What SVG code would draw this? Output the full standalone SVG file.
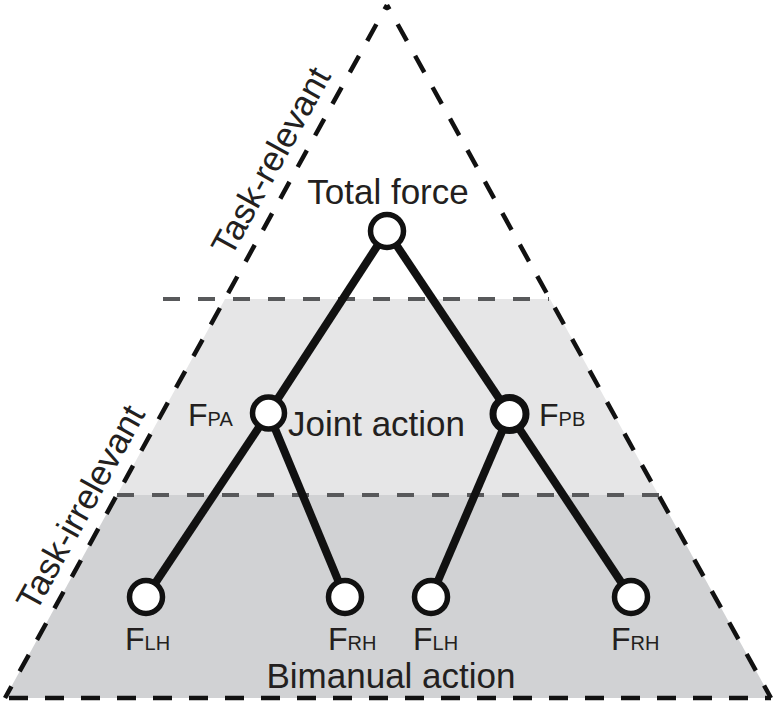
<svg xmlns="http://www.w3.org/2000/svg" width="774" height="702" viewBox="0 0 774 702">
<style>
  text { font-family: "Liberation Sans", Arial, sans-serif; fill: #231f20; }
  .lbl { font-size: 35px; }
  .F { font-size: 32px; }
  .sub { font-size: 20px; }
  .tri { stroke: #111; stroke-width: 4.5; stroke-dasharray: 19 17; fill: none; }
  .hd { stroke: #58595b; stroke-width: 4; stroke-dasharray: 17 18; fill: none; }
  .edge { stroke: #111; stroke-width: 8; fill: none; }
  .node { fill: #fff; stroke: #111; stroke-width: 5.5; }
</style>
<rect width="774" height="702" fill="#fff"/>
<!-- shaded bands -->
<polygon points="225,299 550,299 658.5,495 117,495" fill="#e6e6e7"/>
<polygon points="117,495 658.5,495 771,698 5,698" fill="#d1d2d4"/>
<!-- horizontal dashed separators -->
<line class="hd" x1="163" y1="299" x2="549" y2="299"/>
<line class="hd" x1="117" y1="495" x2="660" y2="495"/>
<!-- triangle -->
<line class="tri" x1="387" y1="5" x2="5" y2="698" stroke-dashoffset="14"/>
<line class="tri" x1="387" y1="5" x2="771" y2="698" stroke-dashoffset="14"/>
<line class="tri" x1="5" y1="698" x2="771" y2="698" stroke-dasharray="18 18.7" stroke-dashoffset="-4"/>
<!-- side labels -->
<text class="lbl" transform="translate(231,258) rotate(-61.1)">Task-relevant</text>
<text class="lbl" transform="translate(36,613) rotate(-61.1)">Task-irrelevant</text>
<!-- connectors -->
<g id="connectors">
  <line class="edge" x1="387" y1="231" x2="268.5" y2="413"/>
  <line class="edge" x1="387" y1="231" x2="509.5" y2="414"/>
  <line class="edge" x1="268.5" y1="413" x2="146" y2="597"/>
  <line class="edge" x1="268.5" y1="413" x2="345" y2="597"/>
  <line class="edge" x1="509.5" y1="414" x2="431" y2="597"/>
  <line class="edge" x1="509.5" y1="414" x2="631" y2="597"/>
</g>
<!-- nodes -->
<g id="total">
  <circle class="node" cx="387" cy="231" r="16.5"/>
  <text class="lbl" x="388" y="204" text-anchor="middle">Total force</text>
</g>
<g id="fpa">
  <circle class="node" cx="268.5" cy="413" r="16"/>
  <text x="188" y="426"><tspan class="F">F</tspan><tspan class="sub">PA</tspan></text>
  <text class="lbl" x="288" y="436">Joint action</text>
</g>
<g id="fpb">
  <circle class="node" cx="509.5" cy="414" r="16.5" style="stroke-width:7"/>
  <text x="539" y="426"><tspan class="F">F</tspan><tspan class="sub">PB</tspan></text>
</g>
<g id="flh1">
  <circle class="node" cx="146" cy="597" r="16.5"/>
  <text x="125" y="650"><tspan class="F">F</tspan><tspan class="sub">LH</tspan></text>
</g>
<g id="frh1">
  <circle class="node" cx="345" cy="597" r="16.5"/>
  <text x="328" y="650"><tspan class="F">F</tspan><tspan class="sub">RH</tspan></text>
</g>
<g id="flh2">
  <circle class="node" cx="431" cy="597" r="16.5"/>
  <text x="413" y="650"><tspan class="F">F</tspan><tspan class="sub">LH</tspan></text>
</g>
<g id="frh2">
  <circle class="node" cx="631" cy="597" r="16.5"/>
  <text x="611" y="650"><tspan class="F">F</tspan><tspan class="sub">RH</tspan></text>
</g>
<g id="bimanual">
  <text class="lbl" x="391" y="688" text-anchor="middle">Bimanual action</text>
</g>
</svg>
